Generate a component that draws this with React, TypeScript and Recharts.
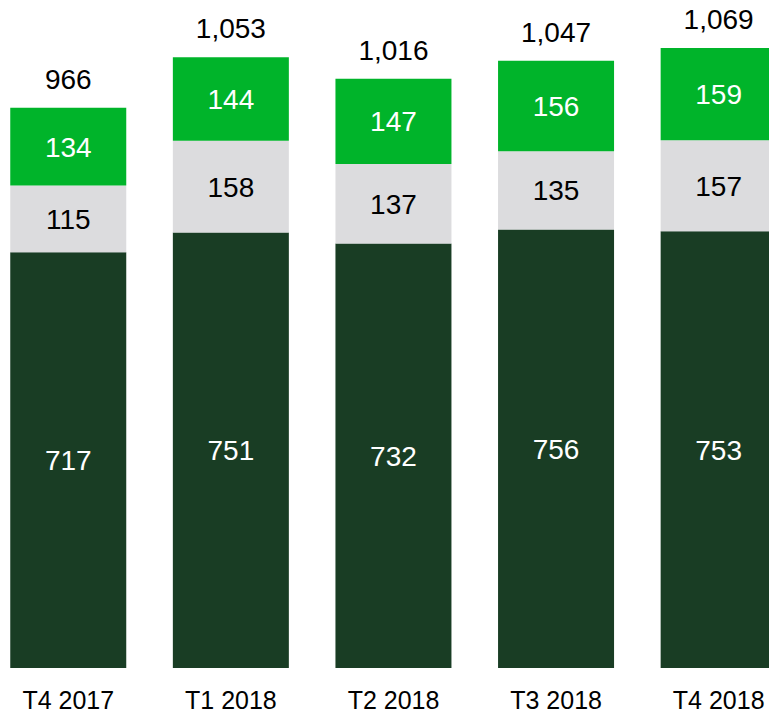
import React from "react";
import { BarChart, Bar, XAxis, YAxis, LabelList } from "recharts";

const categories = ["T4 2017", "T1 2018", "T2 2018", "T3 2018", "T4 2018"];
const darkValues = [717, 751, 732, 756, 753];
const greyValues = [115, 158, 137, 135, 157];
const greenValues = [134, 144, 147, 156, 159];
const totals = [966, 1053, 1016, 1047, 1069];

const data = categories.map((c, i) => ({
  name: c,
  dark: darkValues[i],
  grey: greyValues[i],
  green: greenValues[i],
  total: totals[i],
}));

const fmt = (v: any) => Number(v).toLocaleString("en-US");

export default function App() {
  return (
    <div
      style={{
        position: "absolute",
        left: 0,
        top: 0,
        width: 769,
        height: 713,
        overflow: "hidden",
        background: "#ffffff",
        fontFamily: "'Liberation Sans', Arial, sans-serif",
      }}
    >
      <div style={{ position: "absolute", left: -13, top: 0 }}>
        <BarChart
          width={813}
          height={713}
          data={data}
          margin={{ top: 1, right: 0, bottom: 0, left: 0 }}
          barCategoryGap="14.3%"
        >
          <XAxis
            dataKey="name"
            axisLine={false}
            tickLine={false}
            tickSize={0}
            tickMargin={23}
            height={45}
            interval={0}
            tick={{ fill: "#000000", fontSize: 25 }}
          />
          <YAxis hide domain={[0, 1150]} />
          <Bar dataKey="dark" stackId="a" fill="#193d24" isAnimationActive={false}>
            <LabelList dataKey="dark" position="center" fill="#ffffff" fontSize={28} />
          </Bar>
          <Bar dataKey="grey" stackId="a" fill="#dcdcde" isAnimationActive={false}>
            <LabelList dataKey="grey" position="center" fill="#000000" fontSize={28} />
          </Bar>
          <Bar dataKey="green" stackId="a" fill="#00b42a" isAnimationActive={false}>
            <LabelList dataKey="green" position="center" fill="#ffffff" fontSize={28} />
            <LabelList
              dataKey="total"
              position="top"
              offset={19}
              fill="#000000"
              fontSize={28}
              formatter={fmt}
            />
          </Bar>
        </BarChart>
      </div>
    </div>
  );
}
